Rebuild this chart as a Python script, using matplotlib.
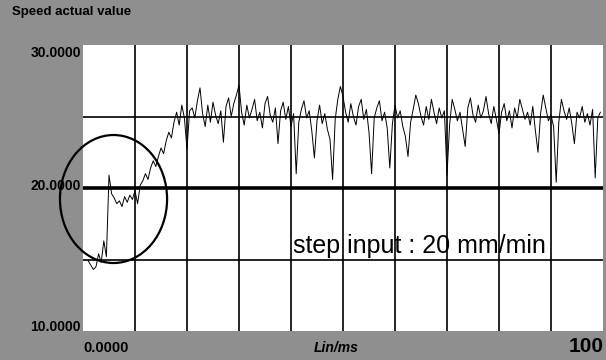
import numpy as np
import matplotlib
matplotlib.use('Agg')
import matplotlib.pyplot as plt
from matplotlib.patches import Ellipse

plt.rcParams['font.family'] = ['Liberation Sans', 'DejaVu Sans']

# speed actual value, sampled every 0.5 ms
t_start, t_step = 1.0, 0.5
rise = [14.9, 14.6, 14.3, 14.5, 15.4, 14.8, 16.3, 15.2, 20.9, 19.6,
        19.3, 18.9, 19.1, 18.7, 19.4, 19.0, 19.5, 19.2, 19.8, 18.9,
        20.2, 20.5, 21.0, 20.6, 21.4, 21.9, 21.5, 22.2, 22.8, 22.4,
        23.3, 23.9, 23.5, 24.6, 25.3, 24.4, 25.8, 24.9, 22.7, 25.4]
steady = [25.6, 24.9, 26.1, 27.0, 25.2, 24.3, 25.8, 24.6, 26.0, 25.1,
          24.5, 25.4, 23.2, 25.7, 26.3, 25.0, 25.9, 26.5, 27.2, 25.3,
          24.4, 25.8, 24.9, 25.5, 26.2, 24.7, 25.3, 24.2, 25.9, 26.4,
          25.1, 24.6, 25.6, 23.1, 25.4, 26.0, 24.8, 25.7, 24.3, 25.2,
          21.0, 24.6, 25.5, 26.1, 24.9, 25.4, 24.0, 22.1, 24.7, 25.8,
          24.5, 25.2, 24.1, 23.4, 20.6, 24.8, 26.2, 27.1, 26.4, 25.3,
          24.6, 25.9, 25.0, 24.4, 25.7, 26.2, 24.8, 25.5, 23.9, 21.0,
          24.9, 25.6, 26.1, 24.7, 25.3, 24.2, 21.4, 24.5, 25.8, 24.9,
          25.4, 24.3, 23.6, 22.2, 24.6, 25.5, 26.5, 25.9, 25.0, 24.4,
          25.7, 24.8, 26.2, 25.3, 24.5, 25.6, 24.9, 25.4, 20.9, 24.4,
          26.2, 25.5, 24.7, 25.3, 24.1, 22.9, 25.6, 26.3, 25.1, 24.6,
          25.8, 24.9, 25.4, 26.4, 25.2, 24.5, 25.7, 24.8, 23.8, 25.3,
          25.9, 24.7, 25.4, 24.2, 25.6, 24.9, 26.2, 25.5, 24.8, 25.3,
          24.4, 25.7, 24.0, 22.5, 25.2, 26.5, 25.6, 24.7, 25.1, 24.3,
          20.4, 24.6, 26.2, 25.4, 24.8, 25.6, 24.5, 23.1, 25.3, 24.9,
          25.7, 24.6, 25.2, 24.4, 25.5, 20.7, 24.9, 25.3]
speed = np.array(rise + steady)
t = t_start + t_step * np.arange(len(speed))

fig = plt.figure(figsize=(6.06, 3.6), dpi=100)
fig.patch.set_facecolor('#8f8f8f')
ax = fig.add_axes([83/606, 29/360, 520/606, 286/360])
ax.set_facecolor('white')
ax.set_xlim(0, 100)
ax.set_ylim(10, 30)
for s in ax.spines.values():
    s.set_visible(False)
ax.set_xticks([])
ax.set_yticks([])

for x in range(10, 100, 10):
    ax.axvline(x, color='black', lw=1.2, zorder=1)
ax.axhline(15, color='black', lw=1.2, zorder=1)
ax.axhline(25, color='black', lw=1.2, zorder=1)
ax.axhline(20, color='black', lw=2.6, zorder=1)

ax.plot(t, speed, color='black', lw=0.7, zorder=2)

# marks the overshoot region after the step
ax.add_patch(Ellipse((5.87, 19.23), 20.6, 8.95, fill=False, ec='black',
                     lw=1.6, clip_on=False, zorder=3))

lab = dict(fontweight='bold', va='center')
fig.text(12/606, 1 - 12/360, 'Speed actual value', fontsize=9.5, ha='left', **lab)
fig.text(81/606, 1 - 53/360, '30.0000', fontsize=10, ha='right', **lab)
fig.text(81/606, 1 - 186/360, '20.0000', fontsize=10, ha='right', **lab)
fig.text(81/606, 1 - 327/360, '10.0000', fontsize=10, ha='right', **lab)
fig.text(83/606, 1 - 348/360, '0.0000', fontsize=10.5, ha='left', **lab)
fig.text(336/606, 1 - 348/360, 'Lin/ms', fontsize=10, style='italic', ha='center', **lab)
fig.text(604/606, 1 - 347/360, '100', fontsize=15, ha='right', **lab)

fig.text(293/606, 1 - 253/360, 'step input : 20 mm/min', fontsize=18,
         va='baseline', ha='left')

fig.savefig('out.png', dpi=100, facecolor=fig.get_facecolor())
